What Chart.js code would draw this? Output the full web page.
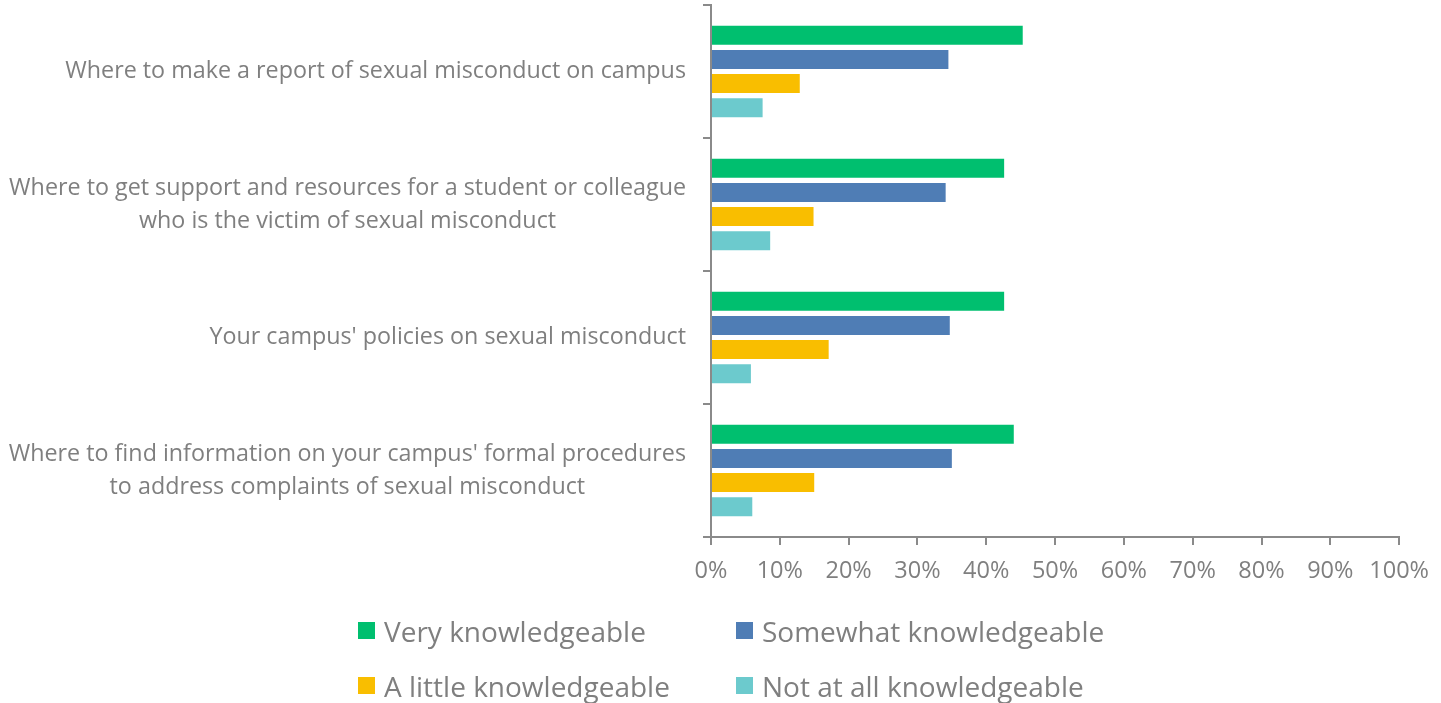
<!DOCTYPE html>
<html>
<head>
<meta charset="utf-8">
<script src="https://cdn.jsdelivr.net/npm/chart.js"></script>
<style>
	body{margin:0;background:#fff;}
	#wrap{position:relative;width:1441px;height:703px;}
	#legend{position:absolute;left:358px;top:603px;display:grid;grid-template-columns:378px auto;font-family:'Open Sans';font-size:28px;color:#7f7f7f;}
	.item{display:flex;align-items:center;height:55px;white-space:nowrap;}
	.box{width:17px;height:17px;margin-right:9px;flex:none;}
</style>
</head>
<body>
<div id="wrap">
	<canvas id="myChart" width="1441" height="703"></canvas>
	<div id="legend"></div>
</div>
<script>
const categories = [
	'Where to make a report of sexual misconduct on campus',
	['Where to get support and resources for a student or colleague', 'who is the victim of sexual misconduct'],
	"Your campus' policies on sexual misconduct",
	["Where to find information on your campus' formal procedures", 'to address complaints of sexual misconduct']
]
const seriesNames = ['Very knowledgeable', 'Somewhat knowledgeable', 'A little knowledgeable', 'Not at all knowledgeable']
const veryKnow = [45.3, 42.6, 42.6, 44.0]
const somewhatKnow = [34.5, 34.1, 34.7, 35.0]
const littleKnow = [12.9, 14.9, 17.1, 15.0]
const notAtAllKnow = [7.5, 8.6, 5.8, 6.0]
const xTicks = [0, 10, 20, 30, 40, 50, 60, 70, 80, 90, 100]

const colors = ['#00bf6f', '#4f7db5', '#f9be00', '#6ccacd']
const textColor = '#7f7f7f'
const axisColor = '#8a8a8a'

// y labels drawn by hand so multi-line labels are centred inside their block
const yLabels = {
	id: 'yLabels',
	afterDraw(chart){
		const ctx = chart.ctx
		const y = chart.scales.y
		ctx.save()
		ctx.font = "23.3px 'Open Sans'"
		ctx.fillStyle = textColor
		ctx.textAlign = 'center'
		ctx.textBaseline = 'middle'
		categories.forEach((lab, i) => {
			const lines = Array.isArray(lab) ? lab : [lab]
			const w = Math.max(...lines.map(l => ctx.measureText(l).width))
			const cx = y.right - 25 - w / 2
			const cy = y.getPixelForTick(i)
			lines.forEach((l, j) => ctx.fillText(l, cx, cy + (j - (lines.length - 1) / 2) * 33))
		})
		ctx.restore()
	}
}

const data = {
	labels: categories,
	datasets: [veryKnow, somewhatKnow, littleKnow, notAtAllKnow].map((d, i) => ({
		label: seriesNames[i],
		data: d,
		backgroundColor: colors[i],
		categoryPercentage: 0.725,
		barPercentage: 0.79
	}))
}

const config = {
	type: 'bar',
	data: data,
	plugins: [yLabels],
	options: {
		indexAxis: 'y',
		responsive: false,
		animation: false,
		layout: {padding: {top: 5, right: 40, left: 0, bottom: 0}},
		plugins: {legend: {display: false}, tooltip: {enabled: false}},
		scales: {
			x: {
				min: 0,
				max: 100,
				afterFit: s => { s.height = 166 },
				afterBuildTicks: s => { s.ticks = xTicks.map(v => ({value: v})) },
				grid: {drawOnChartArea: false, tickLength: 8, color: axisColor, lineWidth: 2},
				border: {color: axisColor, width: 2},
				ticks: {
					color: textColor,
					font: {family: 'Open Sans', size: 23.5},
					padding: 12,
					callback: v => v + '%'
				}
			},
			y: {
				afterFit: s => { s.width = 711 },
				grid: {drawOnChartArea: false, tickLength: 8, color: axisColor, lineWidth: 2},
				border: {color: axisColor, width: 2},
				ticks: {display: false}
			}
		}
	}
}

const myChart = new Chart(document.getElementById('myChart'), config)

const legend = document.getElementById('legend')
myChart.data.datasets.forEach(ds => {
	const item = document.createElement('div')
	item.className = 'item'
	item.innerHTML = '<span class="box" style="background:' + ds.backgroundColor + '"></span><span>' + ds.label + '</span>'
	legend.appendChild(item)
})
</script>
</body>
</html>
